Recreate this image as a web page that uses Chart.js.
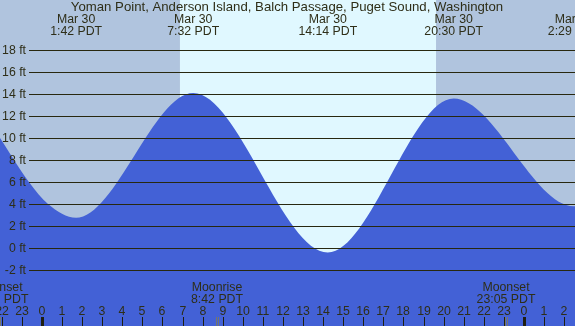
<!DOCTYPE html>
<html>
<head>
<meta charset="utf-8">
<script src="https://cdn.jsdelivr.net/npm/chart.js@4"></script>
<style>
  html, body { margin: 0; padding: 0; background: #b0c4de; }
  #wrap { width: 575px; height: 326px; }
</style>
</head>
<body>
<div id="wrap"><canvas id="tideChart" width="575" height="326"></canvas></div>
<script>
// tide heights (ft), hours from Mar 30 00:00
const tideHours = [-2.09, -0.65, 0.30, 1.70, 7.53, 14.23, 20.50, 26.48, 32.6];
const tideFeet  = [10.0, 6.0, 4.0, 2.75, 14.1, -0.4, 13.6, 3.8, 13.2];

// labels shown above the visible extremes
const extremeHours = [1.70, 7.53, 14.23, 20.50, 26.48];
const extremeDates = ['Mar 30', 'Mar 30', 'Mar 30', 'Mar 30', 'Mar 31'];
const extremeTimes = ['1:42 PDT', '7:32 PDT', '14:14 PDT', '20:30 PDT', '2:29 PDT'];

// daylight
const sunrise = 6.87;
const sunset = 19.62;

// moon events
const moonHours = [-2.14, 8.70, 23.08];
const moonNames = ['Moonset', 'Moonrise', 'Moonset'];
const moonTimes = ['21:52 PDT', '8:42 PDT', '23:05 PDT'];

// axis
const feetTicks = [18, 16, 14, 12, 10, 8, 6, 4, 2, 0, -2];
const hourTicks = [-2, -1, 0, 1, 2, 3, 4, 5, 6, 7, 8, 9, 10, 11, 12, 13, 14, 15, 16, 17, 18, 19, 20, 21, 22, 23, 24, 25, 26];

const title = 'Yoman Point, Anderson Island, Balch Passage, Puget Sound, Washington';
const textColor = '#2e2e18';
const font = '12.3px "Liberation Sans", Arial, sans-serif';
const titleFont = '13.2px "Liberation Sans", Arial, sans-serif';

const tidePlugin = {
    id: 'tide',
    beforeDraw(chart) {
        const c = chart.ctx, xs = chart.scales.x;
        c.save();
        c.fillStyle = '#b0c4de';
        c.fillRect(0, 0, chart.width, chart.height);
        // day band
        const x1 = xs.getPixelForValue(sunrise), x2 = xs.getPixelForValue(sunset);
        c.fillStyle = '#e0f8ff';
        c.fillRect(x1, 0, x2 - x1, chart.height);
        c.restore();
    },
    afterDatasetsDraw(chart) {
        const c = chart.ctx, xs = chart.scales.x, ys = chart.scales.y;
        c.save();
        // horizontal lines + ft labels
        c.font = font;
        c.textBaseline = 'middle';
        feetTicks.forEach(f => {
            const y = Math.round(ys.getPixelForValue(f)) + 0.5;
            c.strokeStyle = '#28280f';
            c.lineWidth = 1;
            c.beginPath();
            c.moveTo(29, y);
            c.lineTo(chart.width, y);
            c.stroke();
            c.fillStyle = textColor;
            c.textAlign = 'right';
            c.fillText(f + ' ft', 26, y);
        });

        // title + extreme labels
        c.textAlign = 'center';
        c.fillStyle = textColor;
        c.font = titleFont;
        c.fillText(title, 287, 7.5);
        c.font = font;
        extremeHours.forEach((h, i) => {
            const x = xs.getPixelForValue(h);
            c.fillText(extremeDates[i], x, 19.5);
            c.fillText(extremeTimes[i], x, 31.5);
        });

        // hour ticks
        hourTicks.forEach(h => {
            const x = Math.round(xs.getPixelForValue(h));
            const lbl = ((h % 24) + 24) % 24;
            c.fillStyle = textColor;
            c.fillText(String(lbl), x, 311.5);
            c.fillStyle = '#1e1e10';
            if (lbl === 0) c.fillRect(x - 1, 317, 3, 9);
            else c.fillRect(x, 317, 1, 9);
        });

        // moon events
        moonHours.forEach((h, i) => {
            const x = Math.round(xs.getPixelForValue(h));
            c.fillStyle = textColor;
            c.fillText(moonNames[i], x, 287.5);
            c.fillText(moonTimes[i], x, 299.5);
            c.fillStyle = '#77776a';
            c.fillRect(x - 1, 317, 1, 9);
            c.fillRect(x + 1, 317, 1, 9);
        });
        c.restore();
    }
};

new Chart(document.getElementById('tideChart').getContext('2d'), {
    type: 'line',
    data: {
        datasets: [{
            data: tideHours.map((h, i) => ({ x: h, y: tideFeet[i] })),
            borderWidth: 0,
            borderColor: 'rgba(0,0,0,0)',
            backgroundColor: '#4361d6',
            pointRadius: 0,
            fill: 'start',
            cubicInterpolationMode: 'monotone'
        }]
    },
    options: {
        responsive: false,
        animation: false,
        devicePixelRatio: 1,
        layout: { padding: 0 },
        plugins: { legend: { display: false }, tooltip: { enabled: false } },
        scales: {
            x: { type: 'linear', min: -2.09, max: 26.54, display: false },
            y: { type: 'linear', min: -7.09, max: 22.55, display: false }
        }
    },
    plugins: [tidePlugin]
});
</script>
</body>
</html>
